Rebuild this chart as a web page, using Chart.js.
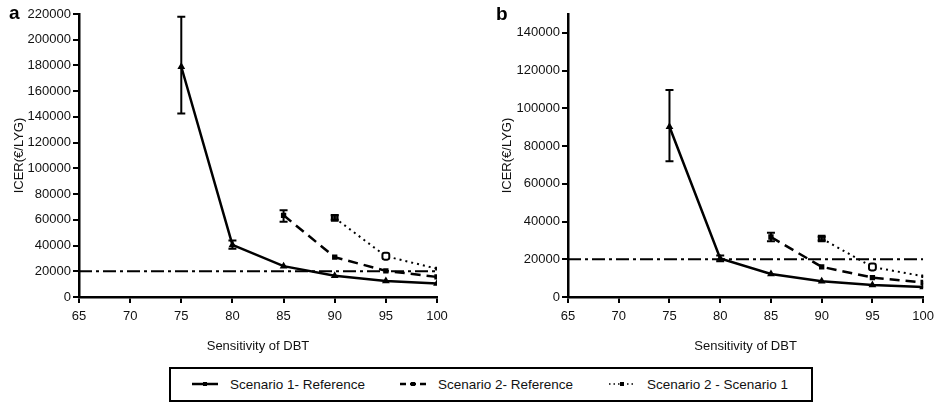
<!DOCTYPE html>
<html>
<head>
<meta charset="utf-8">
<script src="https://cdn.jsdelivr.net/npm/chart.js@4.4.1/dist/chart.umd.min.js"></script>
<style>
  body { margin: 0; background: #fff; font-family: "Liberation Sans", Arial, sans-serif; }
  #wrap { position: relative; width: 940px; height: 406px; overflow: hidden; }
  .panel { position: absolute; top: 0; width: 470px; height: 362px; }
  .tag { position: absolute; font-weight: bold; font-size: 19px; color: #000; }
  #legend { position: absolute; left: 169px; top: 367px; width: 644px; height: 35px;
            border: 2px solid #000; box-sizing: border-box; font-size: 13.5px; color: #111; }
  .item { position: absolute; top: 8px; white-space: nowrap; }
  .item svg { vertical-align: middle; margin-right: 12px; position: relative; top: -1px; }
</style>
</head>
<body>
<div id="wrap">
  <div class="panel" style="left:0"><canvas id="chartA"></canvas></div>
  <div class="panel" style="left:470px"><canvas id="chartB"></canvas></div>
  <div class="tag" style="left:9px;top:2px">a</div>
  <div class="tag" style="left:496px;top:3px">b</div>
  <div id="legend">
    <div class="item" style="left:21px">
      <svg width="26" height="8"><line x1="0" y1="4" x2="26" y2="4" stroke="#000" stroke-width="2.5"/><rect x="11" y="2" width="4" height="4" fill="#000"/></svg>Scenario 1- Reference</div>
    <div class="item" style="left:229px">
      <svg width="26" height="8"><line x1="0" y1="4" x2="26" y2="4" stroke="#000" stroke-width="2.5" stroke-dasharray="6,4"/><rect x="11" y="2" width="4" height="4" fill="#000"/></svg>Scenario 2- Reference</div>
    <div class="item" style="left:438px">
      <svg width="26" height="8"><line x1="0" y1="4" x2="26" y2="4" stroke="#000" stroke-width="1.5" stroke-dasharray="1.5,3"/><rect x="11" y="2" width="4" height="4" fill="#000"/></svg>Scenario 2 - Scenario 1</div>
  </div>
</div>
<script>
// sensitivity of DBT (x axis)
const sensitivity = [75, 80, 85, 90, 95, 100];
const xTicks = [65, 70, 75, 80, 85, 90, 95, 100];
const threshold = 20000;

// panel a
const yTicksA = [0, 20000, 40000, 60000, 80000, 100000, 120000, 140000, 160000, 180000, 200000, 220000];
const aScen1 = [179000, 40500, 24000, 16500, 12500, 10500];
const aScen1Low = [142700, 37500, null, null, null, null];
const aScen1High = [217900, 44000, null, null, null, null];
const aScen2 = [null, null, 63500, 31000, 20300, 15600];
const aScen2Low = [null, null, 58500, null, null, null];
const aScen2High = [null, null, 67500, null, null, null];
const aScen21 = [null, null, null, 61500, 31700, 22000];
const aScen21Low = [null, null, null, 60000, null, null];
const aScen21High = [null, null, null, 63500, null, null];

// panel b
const yTicksB = [0, 20000, 40000, 60000, 80000, 100000, 120000, 140000];
const bScen1 = [90200, 20400, 12200, 8400, 6300, 5300];
const bScen1Low = [72000, 19000, null, null, null, null];
const bScen1High = [109700, 22000, null, null, null, null];
const bScen2 = [null, null, 31800, 16000, 10300, 7700];
const bScen2Low = [null, null, 29500, null, null, null];
const bScen2High = [null, null, 34000, null, null, null];
const bScen21 = [null, null, null, 31000, 15900, 11000];
const bScen21Low = [null, null, null, 30000, null, null];
const bScen21High = [null, null, null, 32000, null, null];

function pts(vals) {
  const out = [];
  vals.forEach((v, i) => { if (v !== null) out.push({ x: sensitivity[i], y: v }); });
  return out;
}

// draws the error bars with the chart's own scales
const errorBars = {
  id: 'errorBars',
  afterDatasetsDraw(chart) {
    const ctx = chart.ctx;
    const xs = chart.scales.x, ys = chart.scales.y;
    ctx.save();
    ctx.strokeStyle = '#000';
    ctx.lineWidth = 2;
    chart.data.datasets.forEach(ds => {
      if (!ds.errLow) return;
      ds.errLow.forEach((lo, i) => {
        const hi = ds.errHigh[i];
        if (lo === null || hi === null) return;
        const x = xs.getPixelForValue(sensitivity[i]);
        const y1 = ys.getPixelForValue(lo), y2 = ys.getPixelForValue(hi);
        ctx.beginPath();
        ctx.moveTo(x, y1); ctx.lineTo(x, y2);
        ctx.moveTo(x - 4, y1); ctx.lineTo(x + 4, y1);
        ctx.moveTo(x - 4, y2); ctx.lineTo(x + 4, y2);
        ctx.stroke();
      });
    });
    ctx.restore();
  }
};

function makeChart(id, s1, s1l, s1h, s2, s2l, s2h, s21, s21l, s21h, yMax, yTicks, yWidth, padRight, titlePad) {
  const fam = '"Liberation Sans", Arial, sans-serif';
  const tickFont = { family: fam, size: 13 };
  return new Chart(document.getElementById(id), {
    type: 'line',
    data: {
      datasets: [
        {
          label: 'Threshold',
          data: [{ x: 65, y: threshold }, { x: 100, y: threshold }],
          borderColor: '#000', borderWidth: 2, borderDash: [13, 4, 3, 4],
          pointRadius: 0
        },
        {
          label: 'Scenario 1- Reference',
          data: pts(s1), errLow: s1l, errHigh: s1h,
          borderColor: '#000', borderWidth: 2.5,
          pointStyle: 'triangle', pointRadius: 2, backgroundColor: '#000'
        },
        {
          label: 'Scenario 2- Reference',
          data: pts(s2), errLow: s2l, errHigh: s2h,
          borderColor: '#000', borderWidth: 2.5, borderDash: [10, 6],
          pointStyle: 'rect', pointRadius: 2, backgroundColor: '#000'
        },
        {
          label: 'Scenario 2 - Scenario 1',
          data: pts(s21), errLow: s21l, errHigh: s21h,
          borderColor: '#000', borderWidth: 2, borderDash: [2, 4],
          pointStyle: ['rect', 'rectRounded', 'rect'], pointRadius: [4, 4, 1.2], pointBorderWidth: 2,
          pointBackgroundColor: ['#444', '#fff', '#000'], pointBorderColor: '#000'
        }
      ]
    },
    options: {
      responsive: true,
      maintainAspectRatio: false,
      animation: false,
      layout: { padding: { top: 14, right: padRight, bottom: 0, left: 0 } },
      plugins: { legend: { display: false }, tooltip: { enabled: false } },
      scales: {
        x: {
          type: 'linear', min: 65, max: 100,
          afterBuildTicks(scale) { scale.ticks = xTicks.map(v => ({ value: v })); },
          ticks: { color: '#111', font: tickFont, padding: 6, maxRotation: 0,
                   callback: v => String(v) },
          grid: { drawOnChartArea: false, color: '#000', lineWidth: 2, tickLength: 6 },
          border: { color: '#000', width: 2.5 },
          title: { display: true, text: 'Sensitivity of DBT', color: '#111',
                   font: { family: fam, size: 13 }, padding: { top: 0, bottom: 8 } },
          afterFit(scale) { scale.height = 65; }
        },
        y: {
          min: 0, max: yMax,
          afterBuildTicks(scale) { scale.ticks = yTicks.map(v => ({ value: v })); },
          ticks: { color: '#111', font: tickFont, padding: 2, callback: v => String(v) },
          grid: { drawOnChartArea: false, color: '#000', lineWidth: 2, tickLength: 6 },
          border: { color: '#000', width: 2.5 },
          title: { display: true, text: 'ICER(€/LYG)', color: '#111',
                   font: { family: fam, size: 13 }, padding: titlePad },
          afterFit(scale) { scale.width = yWidth; }
        }
      }
    },
    plugins: [errorBars]
  });
}

makeChart('chartA', aScen1, aScen1Low, aScen1High, aScen2, aScen2Low, aScen2High,
          aScen21, aScen21Low, aScen21High, 220000, yTicksA, 79, 33, 12);
makeChart('chartB', bScen1, bScen1Low, bScen1High, bScen2, bScen2Low, bScen2High,
          bScen21, bScen21Low, bScen21High, 150000, yTicksB, 98, 15, 30);
</script>
</body>
</html>
